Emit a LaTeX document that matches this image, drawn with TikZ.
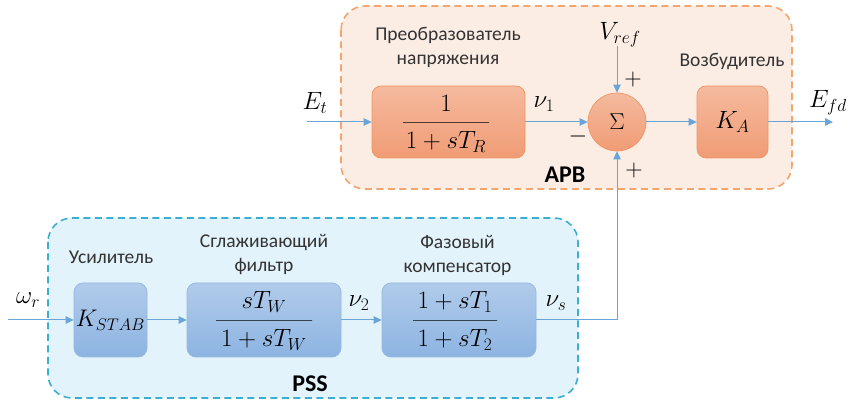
\RequirePackage{fix-cm}
\documentclass[tikz,border=0pt]{standalone}
\usepackage{fontspec}
\setsansfont{Carlito}
\usetikzlibrary{arrows.meta,shapes.geometric}
\definecolor{apbfill}{HTML}{FCEDE4}
\definecolor{apbline}{HTML}{F3A56E}
\definecolor{obtop}{HTML}{F5BA9E}
\definecolor{obbot}{HTML}{F09C75}
\definecolor{obline}{HTML}{EE9463}
\definecolor{pssfill}{HTML}{E2F3FB}
\definecolor{pssline}{HTML}{3AAFCF}
\definecolor{bbtop}{HTML}{B0CBEA}
\definecolor{bbbot}{HTML}{8DB4E2}
\definecolor{bbline}{HTML}{95B8E0}
\definecolor{wire}{HTML}{6AA5DA}
\tikzset{
  grp/.style={rounded corners=24pt, dash pattern=on 7pt off 4.5pt, line width=1.6pt},
  obox/.style={rounded corners=9pt, draw=obline, top color=obtop, bottom color=obbot, line width=0.7pt, inner sep=0pt},
  bbox/.style={rounded corners=9pt, draw=bbline, top color=bbtop, bottom color=bbbot, line width=0.7pt, inner sep=0pt},
  lbl/.style={font=\sffamily\fontsize{19.5}{24}\selectfont, align=center, text=black!80},
  mlbl/.style={font=\fontsize{25}{28}\selectfont, inner sep=0pt},
  glbl/.style={font=\sffamily\bfseries\fontsize{24}{26}\selectfont},
  sgn/.style={font=\fontsize{24}{26}\selectfont, inner sep=0pt},
  fbar/.style={draw=black, line width=0.9pt, minimum height=0pt, inner sep=0pt},
  wirestyle/.style={draw=wire, line width=1pt, -{Triangle[length=8pt,width=7.5pt]}},
}
\begin{document}
\begin{tikzpicture}[x=1pt,y=-1pt]
\useasboundingbox (0,0) rectangle (849,403);
% group boxes
\draw[grp, draw=apbline, fill=apbfill] (341,6) rectangle (792,189);
\draw[grp, draw=pssline, fill=pssfill] (48,218) rectangle (578,398);
% APB blocks
\node[obox, minimum width=153pt, minimum height=72pt] (tr) at (448.5,122) {};
\node[fbar, minimum width=86pt] (trbar) at (446,122) {};
\node[mlbl] (trnum) at (446,103) {$1$};
\node[mlbl] (trden) at (446,142) {$1+sT_R$};
\node[circle, draw=obline, top color=obtop, bottom color=obbot, line width=0.7pt, minimum size=58pt, inner sep=0pt, font=\fontsize{23}{25}\selectfont] (sum) at (617,122) {$\Sigma$};
\node[obox, minimum width=71pt, minimum height=72pt, font=\fontsize{25}{28}\selectfont] (ka) at (732.5,122) {$K_A$};
% PSS blocks
\node[bbox, minimum width=73pt, minimum height=74pt, font=\fontsize{24}{28}\selectfont] (kst) at (110.5,320) {$K_{STAB}$};
\node[bbox, minimum width=154pt, minimum height=74pt] (fw) at (264,320) {};
\node[fbar, minimum width=96pt] (fwbar) at (264,320) {};
\node[mlbl] (fwnum) at (264,302) {$sT_W$};
\node[mlbl] (fwden) at (264,340) {$1+sT_W$};
\node[bbox, minimum width=154pt, minimum height=74pt] (pc) at (459,320) {};
\node[fbar, minimum width=84pt] (pcbar) at (455,320) {};
\node[mlbl] (pcnum) at (455,302) {$1+sT_1$};
\node[mlbl] (pcden) at (455,340) {$1+sT_2$};
% text labels
\node[lbl] (trlbl) at (448,47) {Преобразователь\\напряжения};
\node[lbl] (kalbl) at (732,61) {Возбудитель};
\node[glbl] (apb) at (565,175) {АРВ};
\node[lbl] (kstlbl) at (111,257) {Усилитель};
\node[lbl] (fwlbl) at (264,255) {Сглаживающий\\фильтр};
\node[lbl] (pclbl) at (457.5,255) {Фазовый\\компенсатор};
\node[glbl] (pss) at (310,384) {PSS};
% math labels
\node[mlbl] (et) at (315,103) {$E_t$};
\node[mlbl] (vr) at (620,35) {$V_{ref}$};
\node[mlbl] (nu1) at (544,104) {$\nu_1$};
\node[mlbl] (efdl) at (828,103) {$E_{fd}$};
\node[sgn] (p1) at (633,80) {$+$};
\node[sgn] (p2) at (634,171) {$+$};
\node[sgn] (m1) at (578,137) {$-$};
\node[mlbl] (wr) at (28,300) {$\omega_r$};
\node[mlbl] (nu2) at (359,303) {$\nu_2$};
\node[mlbl] (nus) at (556,303) {$\nu_s$};
% coordinates
\coordinate (etin) at (307,122);
\coordinate (vref) at (617,46);
\coordinate (efd) at (833,122);
\coordinate (win) at (8,320);
\coordinate (corner) at (617,320);
% wires
\draw[wirestyle] (etin) -- (tr.west);
\draw[wirestyle] (tr.east) -- (sum.west);
\draw[wirestyle] (vref) -- (sum.north);
\draw[wirestyle] (sum.east) -- (ka.west);
\draw[wirestyle] (ka.east) -- (efd);
\draw[wirestyle] (win) -- (kst.west |- win);
\draw[wirestyle] (kst.east |- win) -- (fw.west |- win);
\draw[wirestyle] (fw.east |- win) -- (pc.west |- win);
\draw[wirestyle] (pc.east |- win) -- (corner) -- (sum.south);
\end{tikzpicture}
\end{document}
